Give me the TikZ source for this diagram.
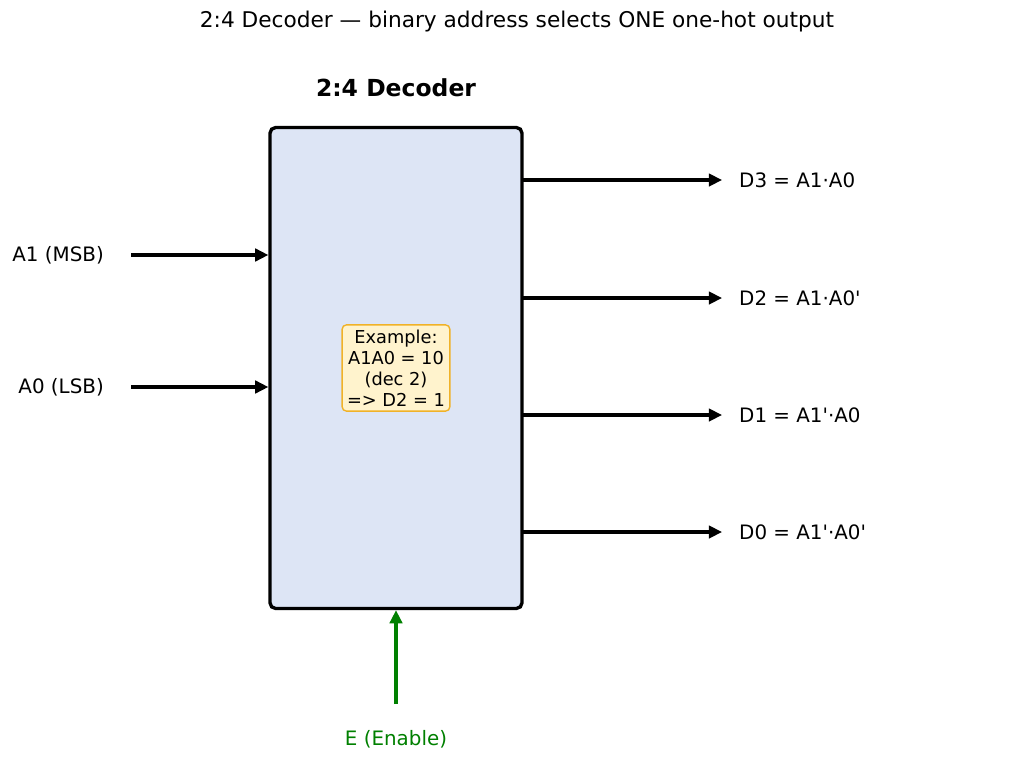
\documentclass[tikz,border=0pt]{standalone}
\usepackage{fontspec}
\setmainfont{DejaVu Sans}
\usetikzlibrary{positioning,arrows.meta}

\definecolor{decfill}{RGB}{221,229,245}
\definecolor{exfill}{RGB}{255,243,205}
\definecolor{exline}{RGB}{240,178,40}
\definecolor{engreen}{RGB}{0,128,0}

\newcommand{\prm}{\textquotesingle}

\tikzset{
  wire/.style={line width=2.2pt,-{Triangle[length=9.5pt,width=9pt]}},
  lbl/.style={inner sep=0pt,font=\fontsize{14.3}{17}\selectfont},
}

\begin{document}
\begin{tikzpicture}[x=0.72pt,y=-0.72pt]
  \useasboundingbox (0,0) rectangle (1015,762);

  % titles
  \node (title) at (517,22) {\fontsize{15.6}{18}\selectfont 2:4 Decoder — binary address selects ONE one-hot output};
  \node (head) at (396,88) {\fontsize{16.9}{20}\selectfont\bfseries 2:4 Decoder};

  % decoder block
  \node[draw, line width=2.4pt, rounded corners=4pt, fill=decfill,
        minimum width=181.4pt, minimum height=346.3pt] (dec) at (396,368) {};

  \node[draw=exline, line width=1pt, fill=exfill, rounded corners=3pt,
        align=center, inner sep=3.5pt, font=\fontsize{12.8}{15.1}\selectfont]
        (ex) at (396,368) {Example:\\A1A0 = 10\\(dec 2)\\=> D2 = 1};

  % inputs
  \coordinate (a1in) at (131,255);
  \coordinate (a0in) at (131,387);
  \node[lbl, left=19.4pt of a1in] (a1) {A1 (MSB)};
  \node[lbl, left=19.4pt of a0in] (a0) {A0 (LSB)};
  \draw[wire] (a1in) -- (a1in -| dec.west);
  \draw[wire] (a0in) -- (a0in -| dec.west);

  % outputs
  \coordinate (o3) at (722,180);
  \coordinate (o2) at (722,298);
  \coordinate (o1) at (722,415);
  \coordinate (o0) at (722,532);
  \node[lbl, right=12.2pt of o3] (d3) {D3 = A1·A0};
  \node[lbl, right=12.2pt of o2] (d2) {D2 = A1·A0\prm};
  \node[lbl, right=12.2pt of o1] (d1) {D1 = A1\prm·A0};
  \node[lbl, right=12.2pt of o0] (d0) {D0 = A1\prm·A0\prm};
  \draw[wire] ([xshift=-2pt]dec.east |- o3) -- (o3);
  \draw[wire] ([xshift=-2pt]dec.east |- o2) -- (o2);
  \draw[wire] ([xshift=-2pt]dec.east |- o1) -- (o1);
  \draw[wire] ([xshift=-2pt]dec.east |- o0) -- (o0);

  % enable
  \coordinate (enin) at (396,704);
  \node[lbl, text=engreen, below=19pt of enin] (en) {E (Enable)};
  \draw[wire, engreen] (enin) -- (dec.south);
\end{tikzpicture}
\end{document}
